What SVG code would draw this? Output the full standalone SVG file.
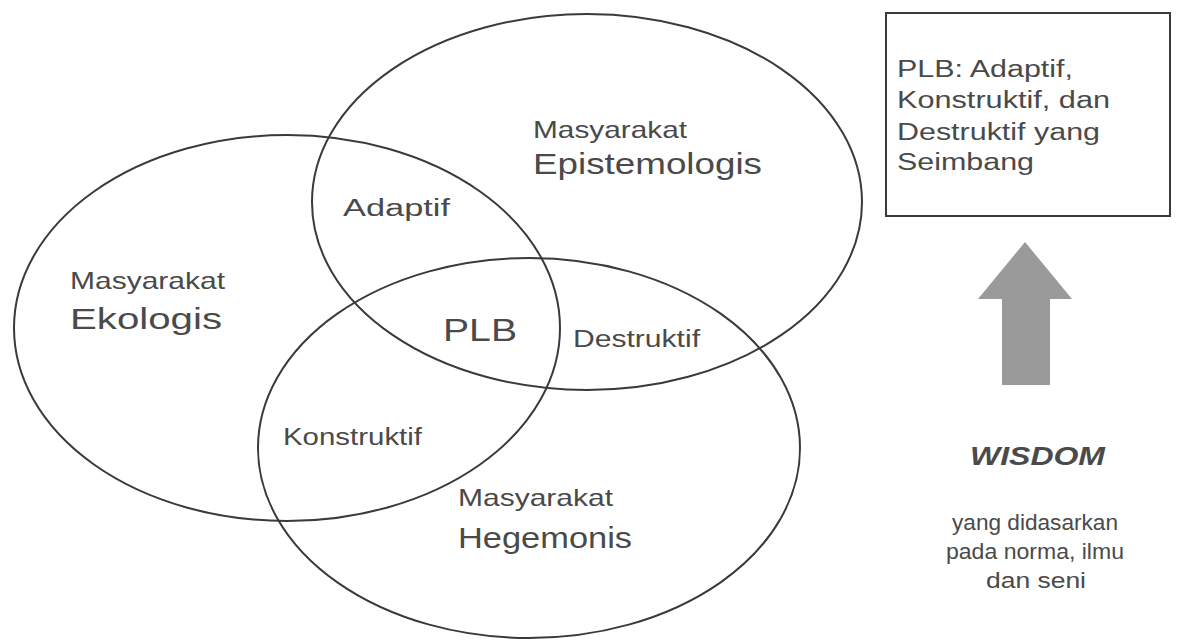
<svg xmlns="http://www.w3.org/2000/svg" width="1183" height="643" viewBox="0 0 1183 643">
<style>
.ell{fill:none;stroke:#3a3a3a;stroke-width:2}
text{font-family:"Liberation Sans",Arial,sans-serif;fill:#4a4a4a}
.m{font-size:24px}
.big{font-size:29px}
.lbl{font-size:23px}
.box{font-size:23px}
.bot{font-size:22px}
</style>
<rect width="1183" height="643" fill="#fff"/>
<g id="epistemologis">
<ellipse class="ell" cx="587" cy="202" rx="275" ry="188"/>
<text class="m" x="533" y="138" textLength="154" lengthAdjust="spacingAndGlyphs">Masyarakat</text>
<text class="big" x="533" y="174" textLength="229" lengthAdjust="spacingAndGlyphs">Epistemologis</text>
</g>
<g id="ekologis">
<ellipse class="ell" cx="287" cy="328" rx="273" ry="193"/>
<text class="m" x="70" y="289" textLength="155" lengthAdjust="spacingAndGlyphs">Masyarakat</text>
<text class="big" x="70" y="329" textLength="152" lengthAdjust="spacingAndGlyphs">Ekologis</text>
</g>
<g id="hegemonis">
<ellipse class="ell" cx="529" cy="448" rx="271" ry="190"/>
<text class="m" x="458" y="506" textLength="155" lengthAdjust="spacingAndGlyphs">Masyarakat</text>
<text class="big" x="458" y="548" textLength="174" lengthAdjust="spacingAndGlyphs">Hegemonis</text>
</g>
<g id="adaptif"><text class="lbl" x="343" y="216" textLength="107" lengthAdjust="spacingAndGlyphs">Adaptif</text></g>
<g id="plb"><text style="font-size:32px" x="443" y="341" textLength="74" lengthAdjust="spacingAndGlyphs">PLB</text></g>
<g id="destruktif"><text class="lbl" x="573" y="347" textLength="127" lengthAdjust="spacingAndGlyphs">Destruktif</text></g>
<g id="konstruktif"><text class="lbl" x="283" y="445" textLength="139" lengthAdjust="spacingAndGlyphs">Konstruktif</text></g>
<g id="summary">
<rect x="886" y="13" width="284" height="203" fill="none" stroke="#3a3a3a" stroke-width="2"/>
<text class="box" x="897" y="77" textLength="176" lengthAdjust="spacingAndGlyphs">PLB: Adaptif,</text>
<text class="box" x="897" y="108" textLength="213" lengthAdjust="spacingAndGlyphs">Konstruktif, dan</text>
<text class="box" x="897" y="140" textLength="203" lengthAdjust="spacingAndGlyphs">Destruktif yang</text>
<text class="box" x="897" y="170" textLength="137" lengthAdjust="spacingAndGlyphs">Seimbang</text>
</g>
<g id="connectors">
<polygon points="1025,242 1072,299 1050,299 1050,385 1002,385 1002,299 978,299" fill="#9a9a9a"/>
</g>
<g id="wisdom">
<text x="970" y="465" style="font-size:25px;font-weight:bold;font-style:italic" textLength="135" lengthAdjust="spacingAndGlyphs">WISDOM</text>
<text class="bot" x="952" y="530" textLength="166" lengthAdjust="spacingAndGlyphs">yang didasarkan</text>
<text class="bot" x="946" y="559" textLength="178" lengthAdjust="spacingAndGlyphs">pada norma, ilmu</text>
<text class="bot" x="986" y="588" textLength="100" lengthAdjust="spacingAndGlyphs">dan seni</text>
</g>
</svg>
